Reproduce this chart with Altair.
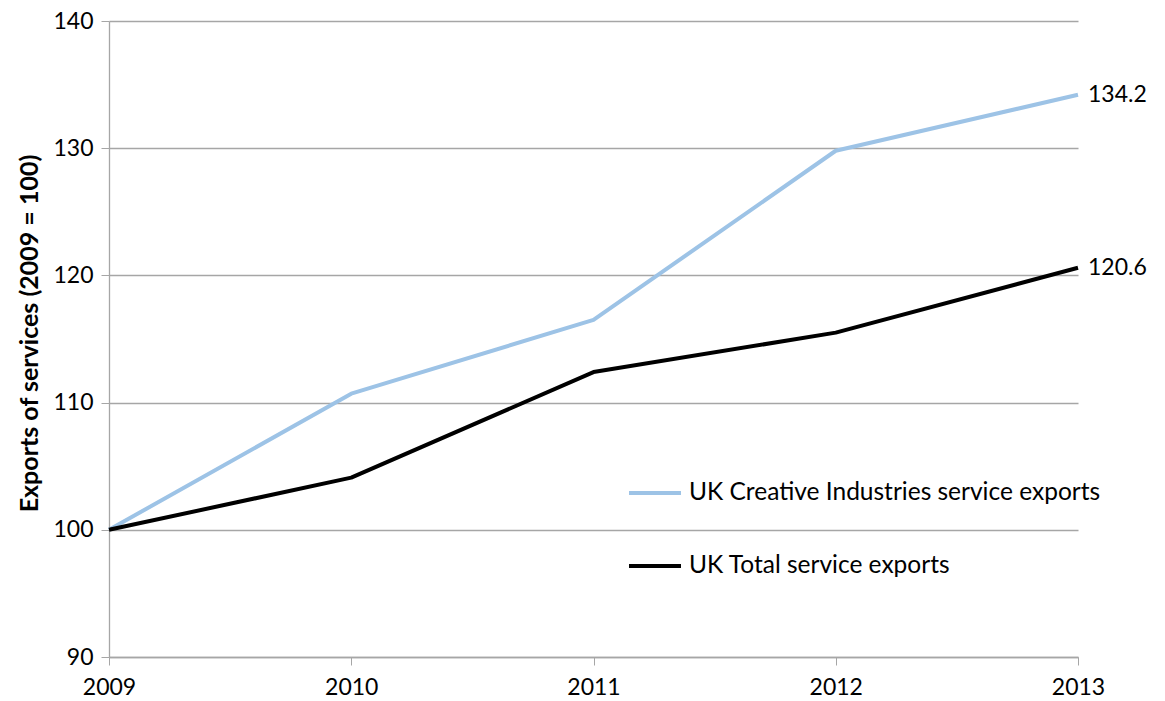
import altair as alt
import pandas as pd

years = [2009, 2010, 2011, 2012, 2013]
creative = [100.0, 110.7, 116.5, 129.8, 134.2]
total = [100.0, 104.1, 112.4, 115.5, 120.6]
series_names = ["UK Creative Industries service exports", "UK Total service exports"]
series_colors = ["#9DC3E6", "#000000"]
y_ticks = [90, 100, 110, 120, 130, 140]

rows = []
for y, v in zip(years, creative):
    rows.append({"year": y, "value": v, "series": series_names[0]})
for y, v in zip(years, total):
    rows.append({"year": y, "value": v, "series": series_names[1]})
df = pd.DataFrame(rows)

end_df = pd.DataFrame({
    "year": [years[-1], years[-1]],
    "value": [creative[-1], total[-1]],
    "label": [f"{creative[-1]:.1f}", f"{total[-1]:.1f}"],
})

FONT = "Lato"

x = alt.X("year:Q", scale=alt.Scale(domain=[2009, 2013], nice=False, zero=False),
          axis=alt.Axis(values=years, format="d", title=None, grid=False,
                        domainColor="#A6A6A6", tickColor="#A6A6A6", tickSize=8,
                        labelFontSize=23, labelColor="#000000", labelPadding=11,
                        labelFont=FONT, domainWidth=1.3, labelFlush=False,
                        labelOverlap=False))
y = alt.Y("value:Q", scale=alt.Scale(domain=[90, 140], nice=False, zero=False),
          axis=alt.Axis(values=y_ticks, title="Exports of services (2009 = 100)",
                        titleFontSize=25, titleFont=FONT, titleFontWeight="bold",
                        titleColor="#000000", titlePadding=10, titleY=312,
                        grid=True, gridColor="#A6A6A6", gridWidth=1.3,
                        domainColor="#A6A6A6", tickColor="#A6A6A6", tickSize=8,
                        labelFontSize=23, labelColor="#000000", labelPadding=8,
                        labelFont=FONT, domainWidth=1.3))

lines = alt.Chart(df).mark_line(strokeWidth=4, strokeJoin="round").encode(
    x=x, y=y,
    color=alt.Color("series:N",
                    scale=alt.Scale(domain=series_names, range=series_colors),
                    sort=series_names,
                    legend=alt.Legend(title=None, orient="none", legendX=518, legendY=444,
                                      symbolType="stroke", symbolSize=2700,
                                      symbolStrokeWidth=4, labelFontSize=24.5,
                                      labelFont=FONT, labelColor="#000000",
                                      rowPadding=33, labelOffset=6, labelLimit=600)),
    detail="series:N",
)

labels = alt.Chart(end_df).mark_text(align="left", baseline="middle", dx=10,
                                     fontSize=23, font=FONT, color="#000000").encode(
    x="year:Q", y="value:Q", text="label:N")

chart = alt.layer(lines, labels).properties(
    width=969, height=636,
    padding={"left": 109, "top": 21, "right": 80, "bottom": 44},
    autosize=alt.AutoSizeParams(type="none"),
    background="white",
).configure_view(stroke=None)

chart.save("out.html", embed_options={"renderer": "svg", "actions": False})
